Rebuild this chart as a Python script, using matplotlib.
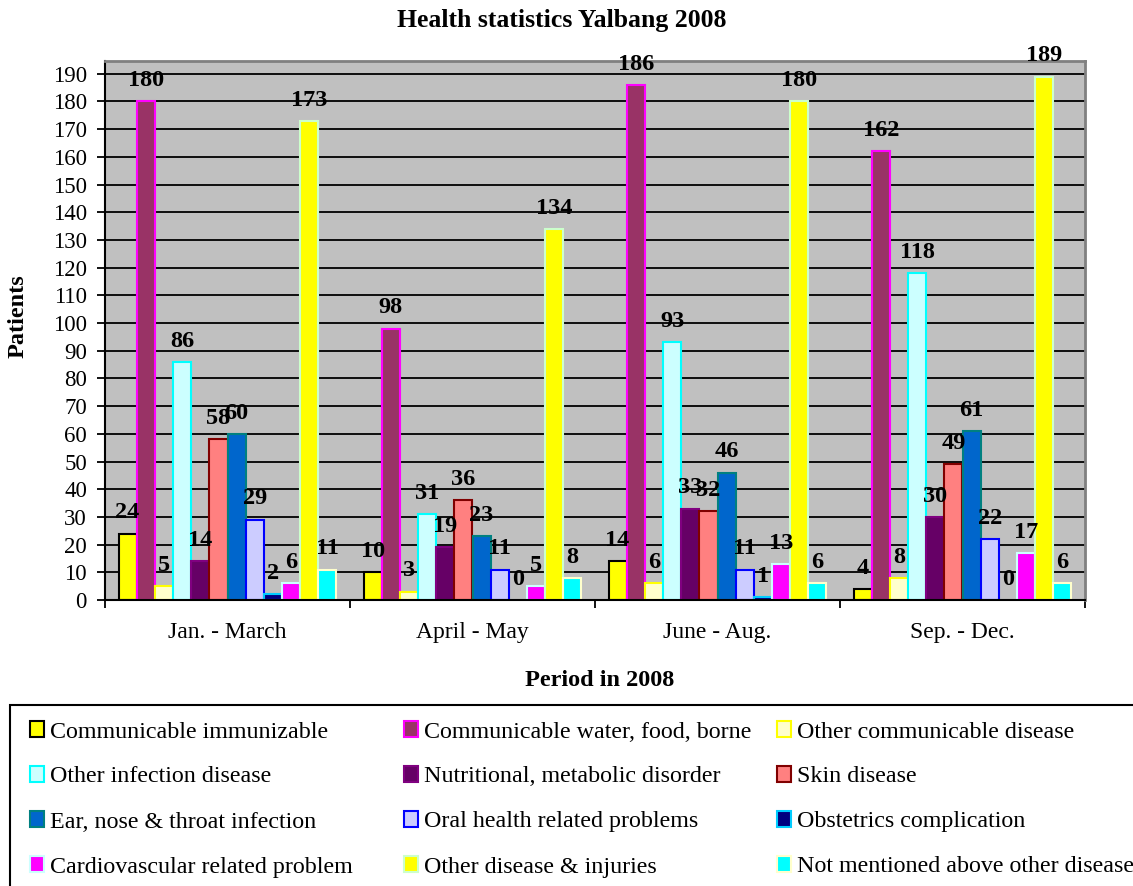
import numpy as np
import matplotlib
matplotlib.use("Agg")
import matplotlib.pyplot as plt
from matplotlib.patches import Rectangle

plt.rcParams['font.family'] = ['Liberation Serif', 'DejaVu Serif']

# ---- data ----
periods = ["Jan. - March", "April - May", "June - Aug.", "Sep. - Dec."]
categories = [
    "Communicable immunizable",
    "Communicable water, food, borne",
    "Other communicable disease",
    "Other infection disease",
    "Nutritional, metabolic disorder",
    "Skin disease",
    "Ear, nose & throat infection",
    "Oral health related problems",
    "Obstetrics complication",
    "Cardiovascular related problem",
    "Other disease & injuries",
    "Not mentioned above other disease",
]
communicable_immunizable = [24, 10, 14, 4]
communicable_water_food = [180, 98, 186, 162]
other_communicable = [5, 3, 6, 8]
other_infection = [86, 31, 93, 118]
nutritional_metabolic = [14, 19, 33, 30]
skin_disease = [58, 36, 32, 49]
ear_nose_throat = [60, 23, 46, 61]
oral_health = [29, 11, 11, 22]
obstetrics = [2, 0, 1, 0]
cardiovascular = [6, 5, 13, 17]
other_disease_injuries = [173, 134, 180, 189]
not_mentioned = [11, 8, 6, 6]

series = [
    communicable_immunizable, communicable_water_food, other_communicable,
    other_infection, nutritional_metabolic, skin_disease, ear_nose_throat,
    oral_health, obstetrics, cardiovascular, other_disease_injuries,
    not_mentioned,
]

fills = ["#FFFF00", "#993366", "#FFFFCC", "#CCFFFF", "#660066", "#FF8080",
         "#0066CC", "#CCCCFF", "#000080", "#FF00FF", "#FFFF00", "#00FFFF"]
edges = ["#000000", "#FF00FF", "#FFFF00", "#00FFFF", "#800080", "#800000",
         "#008080", "#0000FF", "#00CCFF", "#CCFFFF", "#CCFFCC", "#FFFFCC"]

W, H = 1133, 886
fig = plt.figure(figsize=(W / 100, H / 100), dpi=100)


def fx(px):
    return px / W


def fy(py):
    return 1 - py / H


ax = fig.add_axes([fx(105), fy(600), fx(1085) - fx(105), fy(61) - fy(600)])
ax.set_facecolor("#C0C0C0")

n = len(series)
bw = 1 / (n + 1.5)
x = np.arange(len(periods))

for j, vals in enumerate(series):
    pos = x + (j - (n - 1) / 2) * bw
    lws = [1.5 if v > 0 else 0 for v in vals]
    ax.bar(pos, vals, width=bw, color=fills[j], edgecolor=edges[j],
           linewidth=lws, zorder=2)
    for xp, v in zip(pos, vals):
        ax.annotate(str(v), (xp, v), xytext=(0, 11), textcoords="offset points",
                    ha="center", va="baseline", fontsize=17.5, fontweight="bold",
                    zorder=5)

ax.set_xlim(-0.5, len(periods) - 0.5)
ax.set_ylim(0, 194.6)
ax.set_yticks(np.arange(0, 191, 10))
ax.tick_params(axis="y", labelsize=16.5, length=6, width=1.3, pad=7,
               direction="out")
ax.set_xticks(np.arange(-0.5, len(periods)), minor=False)
ax.set_xticklabels([])
ax.set_xticks(x, minor=True)
ax.set_xticklabels(periods, minor=True)
ax.tick_params(axis="x", which="major", length=6, width=1.3, direction="out")
ax.tick_params(axis="x", which="minor", length=0, labelsize=17, pad=16)

ax.yaxis.grid(True, color="black", linewidth=1.3)
ax.set_axisbelow(True)
for s in ("left", "bottom"):
    ax.spines[s].set_color("black")
    ax.spines[s].set_linewidth(1.5)
for s in ("top", "right"):
    ax.spines[s].set_color("#808080")
    ax.spines[s].set_linewidth(2)

fig.text(fx(562), fy(20), "Health statistics Yalbang 2008", ha="center",
         va="center", fontsize=18.5, fontweight="bold")
fig.text(fx(600), fy(681), "Period in 2008", ha="center", va="center",
         fontsize=17.5, fontweight="bold")
fig.text(fx(18), fy(316), "Patients", ha="center", va="center",
         rotation=90, fontsize=17.5, fontweight="bold")

# ---- legend box ----
fig.patches.append(Rectangle((fx(10), fy(900)), fx(1150) - fx(10),
                             fy(705) - fy(900), transform=fig.transFigure,
                             facecolor="white", edgecolor="black",
                             linewidth=1.5, zorder=0))
marker_x = [30, 404, 777]
text_x = [50, 424, 797]
row_y = [729, 774, 819, 864]
for i, name in enumerate(categories):
    c, r = i % 3, i // 3
    yc = row_y[r]
    fig.patches.append(Rectangle((fx(marker_x[c]), fy(yc + 8)),
                                 fx(14), fy(yc - 8) - fy(yc + 8),
                                 transform=fig.transFigure,
                                 facecolor=fills[i], edgecolor=edges[i],
                                 linewidth=1.5, zorder=2))
    fig.text(fx(text_x[c]), fy(yc + 3), name, ha="left", va="center",
             fontsize=17.3)

fig.savefig("out.png", dpi=100)
